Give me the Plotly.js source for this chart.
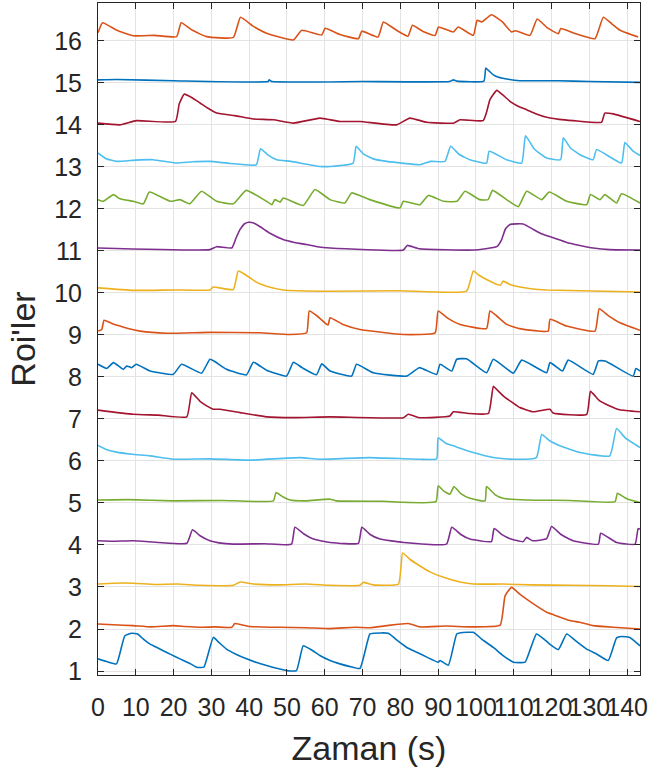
<!DOCTYPE html>
<html>
<head>
<meta charset="utf-8">
<script src="https://cdn.plot.ly/plotly-3.0.1.min.js"></script>
<style>html,body{margin:0;padding:0;background:#fff;}#chart{width:648px;height:774px;}</style>
</head>
<body>
<div id="chart"></div>
<script>
// Time (s) / ROI value pairs, one pair of arrays per ROI
const roi1_x = [0, 2.5, 4.9, 7.1, 8.9, 10.5, 12, 13.8, 16, 18.2, 20.5, 22.6, 24.5, 26.1, 28.0, 30.5, 32, 34, 36.5, 39.3, 42, 44.6, 47, 49.9, 52.5, 54.3, 56.5, 58.7, 61.4, 64, 66.5, 69.3, 71.9, 73, 76.8, 79, 81.7, 84.5, 87, 90.0, 90.5, 92.7, 94.9, 96, 99.3, 101.5, 104.6, 107, 109.9, 113, 114.5, 116, 118, 119.5, 121.8, 124, 126.5, 129.3, 132, 135, 137.2, 138.5, 140.7, 143.4];
const roi1_y = [1.29, 1.22, 1.17, 1.84, 1.90, 1.88, 1.76, 1.64, 1.54, 1.44, 1.34, 1.25, 1.17, 1.09, 1.09, 1.80, 1.68, 1.52, 1.40, 1.29, 1.20, 1.13, 1.07, 1.01, 1.01, 1.60, 1.50, 1.37, 1.25, 1.17, 1.11, 1.06, 1.88, 1.90, 1.90, 1.74, 1.56, 1.44, 1.33, 1.21, 1.25, 1.14, 1.88, 1.91, 1.92, 1.76, 1.56, 1.38, 1.21, 1.21, 1.55, 1.88, 1.76, 1.64, 1.51, 1.88, 1.71, 1.52, 1.40, 1.25, 1.79, 1.82, 1.80, 1.60];

const roi2_x = [0, 4, 9.3, 14, 19.9, 23, 27, 31, 35.4, 36.2, 38, 40.2, 48, 55, 61.4, 68, 72, 76.4, 82.1, 85.2, 92, 99, 106.4, 107.7, 109.4, 111.6, 113.4, 116, 118.7, 120.5, 124.9, 127.5, 131, 136.3, 143.4];
const roi2_y = [2.12, 2.10, 2.08, 2.05, 2.08, 2.06, 2.04, 2.05, 2.04, 2.13, 2.10, 2.06, 2.04, 2.03, 2.01, 2.04, 2.03, 2.08, 2.13, 2.05, 2.07, 2.05, 2.09, 2.79, 2.99, 2.83, 2.71, 2.55, 2.40, 2.34, 2.20, 2.16, 2.08, 2.04, 2.00];

const roi3_x = [0, 4, 9.3, 15, 21, 27, 35.8, 37.6, 41.1, 48, 55, 61.4, 69.3, 70.2, 72.8, 79.5, 80.6, 82.5, 85.2, 87.8, 91.4, 95.8, 99.3, 107, 115, 125, 135, 143.4];
const roi3_y = [3.07, 3.09, 3.09, 3.06, 3.07, 3.04, 3.04, 3.12, 3.07, 3.05, 3.07, 3.04, 3.04, 3.11, 3.05, 3.07, 3.81, 3.66, 3.50, 3.36, 3.23, 3.12, 3.07, 3.07, 3.05, 3.04, 3.03, 3.01];

const roi4_x = [0, 4, 9.3, 16, 23.5, 25, 27, 29.6, 32, 35.8, 44, 51.2, 52.1, 54.5, 57, 61.4, 68.9, 69.8, 72, 74.6, 80.8, 92.2, 93.6, 96, 98.4, 104.1, 104.8, 107, 109, 112.5, 113.4, 115, 118.7, 120, 122.5, 125.7, 132.4, 133, 137.2, 142.1, 142.9, 143.4];
const roi4_y = [4.10, 4.09, 4.10, 4.06, 4.04, 4.36, 4.22, 4.10, 4.05, 4.02, 4.03, 4.02, 4.42, 4.26, 4.14, 4.06, 4.04, 4.42, 4.25, 4.14, 4.06, 4.02, 4.42, 4.25, 4.14, 4.08, 4.39, 4.24, 4.15, 4.08, 4.18, 4.10, 4.15, 4.44, 4.25, 4.10, 4.02, 4.28, 4.06, 4.02, 4.39, 4.38];

const roi5_x = [0, 8, 20, 33, 46.4, 47.1, 49, 50.8, 55, 61.4, 63, 75, 89.4, 90.0, 91.5, 93.1, 94.2, 96, 98.4, 102.4, 102.8, 105, 107.2, 113.4, 125, 136.8, 137.4, 139.5, 141.6, 143.4];
const roi5_y = [5.07, 5.08, 5.05, 5.06, 5.05, 5.25, 5.14, 5.07, 5.05, 5.09, 5.05, 5.04, 5.03, 5.41, 5.28, 5.21, 5.39, 5.22, 5.11, 5.05, 5.39, 5.20, 5.11, 5.07, 5.06, 5.03, 5.23, 5.12, 5.05, 5.01];

const roi6_x = [0, 2, 4.9, 9, 13.8, 19.9, 29.6, 40.2, 53.4, 58.7, 71.9, 85.2, 89.6, 90.0, 92, 94, 99.3, 104.6, 109.9, 116, 117.4, 119.5, 122.2, 127.5, 135.4, 137.2, 139.5, 143.4];
const roi6_y = [6.37, 6.28, 6.21, 6.16, 6.12, 6.04, 6.05, 6.02, 6.08, 6.04, 6.08, 6.04, 6.05, 6.55, 6.42, 6.36, 6.20, 6.08, 6.04, 6.08, 6.63, 6.48, 6.36, 6.20, 6.12, 6.77, 6.55, 6.32];

const roi7_x = [0, 9.3, 16, 23.5, 24.8, 27, 29.6, 30.5, 32.3, 37.6, 44.6, 51.7, 61.4, 80.8, 82.1, 85, 93.1, 94, 98, 103.3, 104.6, 105.5, 107.2, 109.5, 111.6, 115.2, 119.6, 120.4, 129.3, 130.3, 132.5, 135.4, 138, 143.4];
const roi7_y = [7.21, 7.11, 7.09, 7.05, 7.62, 7.42, 7.27, 7.23, 7.23, 7.15, 7.05, 7.03, 7.05, 7.03, 7.11, 7.03, 7.07, 7.17, 7.13, 7.13, 7.78, 7.70, 7.55, 7.40, 7.27, 7.17, 7.23, 7.14, 7.11, 7.66, 7.45, 7.31, 7.22, 7.17];

const roi8_x = [0, 2.3, 4.1, 6.7, 7.6, 8.9, 10.1, 13.8, 19.9, 22.1, 27.4, 29.6, 31, 34, 39.3, 41.1, 44.6, 49.9, 51.7, 54, 57.8, 59.2, 61.4, 67.1, 68.4, 72.8, 81.7, 85, 89.6, 90.5, 93.6, 94.9, 97.5, 102.8, 104.6, 109.9, 112.1, 118.7, 119.6, 122.9, 124.4, 131, 132.4, 134.2, 141.6, 142.3, 143.4];
const roi8_y = [8.30, 8.20, 8.34, 8.18, 8.26, 8.22, 8.30, 8.14, 8.06, 8.30, 8.09, 8.42, 8.36, 8.18, 8.05, 8.35, 8.16, 8.02, 8.35, 8.22, 8.05, 8.31, 8.14, 8.02, 8.30, 8.10, 8.02, 8.22, 8.06, 8.30, 8.14, 8.42, 8.43, 8.10, 8.42, 8.09, 8.40, 8.10, 8.34, 8.14, 8.40, 8.06, 8.38, 8.38, 8.02, 8.20, 8.14];

const roi9_x = [0, 1.0, 1.6, 3.5, 5.8, 8.5, 11.1, 18.2, 29.6, 42.8, 50.8, 55.2, 55.9, 58, 60.5, 60.9, 61.4, 65, 69.3, 80.8, 89.2, 90.0, 92.5, 95.8, 102.8, 103.7, 105.5, 108.1, 111.6, 119.1, 119.6, 124, 131.5, 132.6, 135, 138.1, 143.4];
const roi9_y = [9.09, 9.13, 9.35, 9.28, 9.21, 9.14, 9.09, 9.04, 9.06, 9.05, 9.01, 9.05, 9.57, 9.45, 9.25, 9.24, 9.41, 9.24, 9.13, 9.01, 9.05, 9.57, 9.40, 9.25, 9.15, 9.57, 9.45, 9.25, 9.15, 9.09, 9.37, 9.21, 9.09, 9.62, 9.46, 9.29, 9.11];

const roi10_x = [0, 9.3, 20, 29.6, 30.5, 35.8, 37.1, 38.5, 40.2, 42, 44.6, 49, 61.4, 80, 97.5, 99.3, 100.8, 102.8, 106.4, 107.2, 109, 111.6, 114.5, 118.7, 143.4];
const roi10_y = [10.12, 10.06, 10.07, 10.07, 10.14, 10.08, 10.52, 10.46, 10.36, 10.25, 10.16, 10.07, 10.04, 10.05, 10.04, 10.52, 10.42, 10.32, 10.18, 10.28, 10.20, 10.14, 10.10, 10.07, 10.02];

const roi11_x = [0, 29.6, 31.4, 35.4, 36.5, 37.6, 38.7, 39.8, 41, 42.8, 45.5, 49, 52, 55.2, 58, 61.4, 80.8, 81.8, 85, 99.3, 105.5, 106.8, 107.8, 109, 112.5, 115.2, 117.5, 120.5, 124, 127.5, 131, 135.4, 143.4];
const roi11_y = [11.07, 11.03, 11.10, 11.07, 11.30, 11.51, 11.64, 11.68, 11.67, 11.58, 11.42, 11.27, 11.20, 11.15, 11.10, 11.07, 11.02, 11.13, 11.05, 11.02, 11.10, 11.27, 11.52, 11.63, 11.64, 11.51, 11.40, 11.31, 11.20, 11.13, 11.07, 11.03, 11.02];

const roi12_x = [0, 1.4, 4.1, 5.8, 9.3, 12, 13.6, 19.1, 21.7, 24.3, 27.4, 31.4, 35.8, 39.2, 44.6, 46, 46.8, 48.2, 49, 54.3, 57.4, 61.4, 65.3, 67.1, 71.9, 79.9, 80.8, 85.2, 87.4, 91.4, 95, 97.1, 101, 103.2, 104.4, 108.1, 111.2, 113.4, 117.4, 119.4, 124, 129.3, 130.3, 132.8, 134.1, 137.2, 138.5, 143.4];
const roi12_y = [12.22, 12.18, 12.34, 12.24, 12.18, 12.12, 12.40, 12.18, 12.22, 12.12, 12.42, 12.18, 12.12, 12.44, 12.18, 12.10, 12.22, 12.16, 12.26, 12.08, 12.46, 12.22, 12.14, 12.38, 12.22, 12.02, 12.18, 12.10, 12.32, 12.18, 12.18, 12.42, 12.22, 12.22, 12.44, 12.22, 12.05, 12.42, 12.22, 12.40, 12.18, 12.10, 12.34, 12.22, 12.34, 12.14, 12.36, 12.14];

const roi13_x = [0, 2, 4.9, 10, 14.6, 20.8, 25, 29.6, 35, 41.9, 43, 45, 47.3, 51, 58.7, 61.4, 67.5, 68.3, 70.2, 72.8, 76.4, 85.2, 88, 91.8, 93.3, 95.5, 98.4, 102.8, 103.5, 108.1, 112.1, 113.1, 115.5, 118.7, 122.4, 123.1, 125, 127.5, 131, 131.9, 138.5, 139.4, 141.5, 143.4];
const roi13_y = [13.33, 13.20, 13.13, 13.16, 13.17, 13.09, 13.12, 13.13, 13.08, 13.05, 13.43, 13.28, 13.17, 13.13, 13.01, 13.01, 13.09, 13.49, 13.31, 13.19, 13.13, 13.05, 13.13, 13.13, 13.49, 13.30, 13.17, 13.09, 13.37, 13.17, 13.09, 13.74, 13.42, 13.21, 13.17, 13.69, 13.45, 13.29, 13.17, 13.41, 13.09, 13.58, 13.38, 13.27];

const roi14_x = [0, 5.8, 10.2, 20.5, 21.5, 22.8, 25, 27, 29, 31.4, 36.2, 41.1, 46.4, 51.7, 58.7, 64, 69.3, 79, 82.5, 87, 94, 95.8, 101.9, 102.8, 103.7, 105.5, 107, 109, 111, 113.4, 116, 118.7, 122, 125.7, 133.2, 134.1, 136.3, 143.4];
const roi14_y = [14.04, 14.00, 14.10, 14.08, 14.50, 14.73, 14.64, 14.52, 14.40, 14.28, 14.22, 14.14, 14.12, 14.04, 14.16, 14.08, 14.08, 14.00, 14.16, 14.06, 14.04, 14.12, 14.10, 14.30, 14.60, 14.82, 14.72, 14.56, 14.45, 14.36, 14.26, 14.18, 14.13, 14.10, 14.06, 14.28, 14.26, 14.08];

const roi15_x = [0, 5, 20, 45, 45.3, 46, 70, 93, 94, 95, 102.1, 102.6, 103.5, 104.6, 106, 108.1, 111.6, 121.8, 130, 143.4];
const roi15_y = [15.07, 15.08, 15.05, 15.03, 15.07, 15.03, 15.03, 15.03, 15.07, 15.04, 15.04, 15.35, 15.28, 15.19, 15.13, 15.09, 15.05, 15.05, 15.03, 15.01];

const roi16_x = [0, 1.2, 5, 9.3, 15, 20.8, 22, 25, 28.7, 35.8, 37.7, 41, 44.6, 51.7, 53.9, 59.2, 60.1, 64, 68.9, 69.8, 74.1, 75.5, 79, 82, 83.2, 86, 89.2, 90.1, 94, 95.3, 99.3, 100.3, 101.5, 104.1, 107, 109.4, 110.5, 114.3, 116.2, 119, 121.8, 122.4, 126, 131.5, 133.7, 136, 138.1, 142.9];
const roi16_y = [16.19, 16.43, 16.25, 16.12, 16.13, 16.10, 16.43, 16.25, 16.10, 16.08, 16.56, 16.35, 16.18, 16.02, 16.25, 16.14, 16.30, 16.15, 16.05, 16.23, 16.09, 16.45, 16.25, 16.11, 16.37, 16.22, 16.13, 16.33, 16.21, 16.33, 16.13, 16.49, 16.45, 16.62, 16.45, 16.21, 16.24, 16.13, 16.52, 16.30, 16.17, 16.29, 16.18, 16.05, 16.56, 16.40, 16.25, 16.09];

const xTicks = [0, 10, 20, 30, 40, 50, 60, 70, 80, 90, 100, 110, 120, 130, 140];
const yTicks = [1, 2, 3, 4, 5, 6, 7, 8, 9, 10, 11, 12, 13, 14, 15, 16];
const xTitle = 'Zaman (s)';
const yTitle = "Roi'ler";

const palette = ['#0072BD', '#D95319', '#EDB120', '#7E2F8E', '#77AC30', '#4DBEEE', '#A2142F'];
const series = [
  [roi1_x, roi1_y], [roi2_x, roi2_y], [roi3_x, roi3_y], [roi4_x, roi4_y],
  [roi5_x, roi5_y], [roi6_x, roi6_y], [roi7_x, roi7_y], [roi8_x, roi8_y],
  [roi9_x, roi9_y], [roi10_x, roi10_y], [roi11_x, roi11_y], [roi12_x, roi12_y],
  [roi13_x, roi13_y], [roi14_x, roi14_y], [roi15_x, roi15_y], [roi16_x, roi16_y]
];

const traces = series.map((s, i) => ({
  x: s[0], y: s[1], type: 'scatter', mode: 'lines',
  line: {color: palette[i % palette.length], width: 1.6, shape: 'spline', smoothing: 0.4},
  hoverinfo: 'skip', showlegend: false
}));

const axisCommon = {
  showgrid: true, gridcolor: '#e3e3e3', gridwidth: 1,
  zeroline: false, showline: true, mirror: 'ticks',
  linecolor: '#262626', linewidth: 1,
  ticks: 'inside', ticklen: 6, tickcolor: '#262626', tickwidth: 1,
  tickfont: {family: 'Arial, Liberation Sans, sans-serif', size: 25, color: '#262626'},
  tickangle: 0, automargin: false, ticklabeloverflow: 'allow'
};

const layout = {
  width: 648, height: 774,
  margin: {l: 98, r: 8, t: 3, b: 99},
  paper_bgcolor: '#ffffff', plot_bgcolor: '#ffffff',
  font: {family: 'Arial, Liberation Sans, sans-serif', color: '#262626'},
  showlegend: false,
  xaxis: Object.assign({}, axisCommon, {
    range: [0, 143.4], tickmode: 'array', tickvals: xTicks, ticktext: xTicks.map(String),
    ticklabelstandoff: 10,
    title: {text: xTitle, font: {size: 34, color: '#262626'}, standoff: 16}
  }),
  yaxis: Object.assign({}, axisCommon, {
    range: [0.905, 16.9], tickmode: 'array', tickvals: yTicks, ticktext: yTicks.map(String),
    ticklabelstandoff: 10,
    title: {text: yTitle, font: {size: 34, color: '#262626'}, standoff: 8}
  })
};

Plotly.newPlot('chart', traces, layout, {staticPlot: true, displayModeBar: false});
</script>
</body>
</html>
